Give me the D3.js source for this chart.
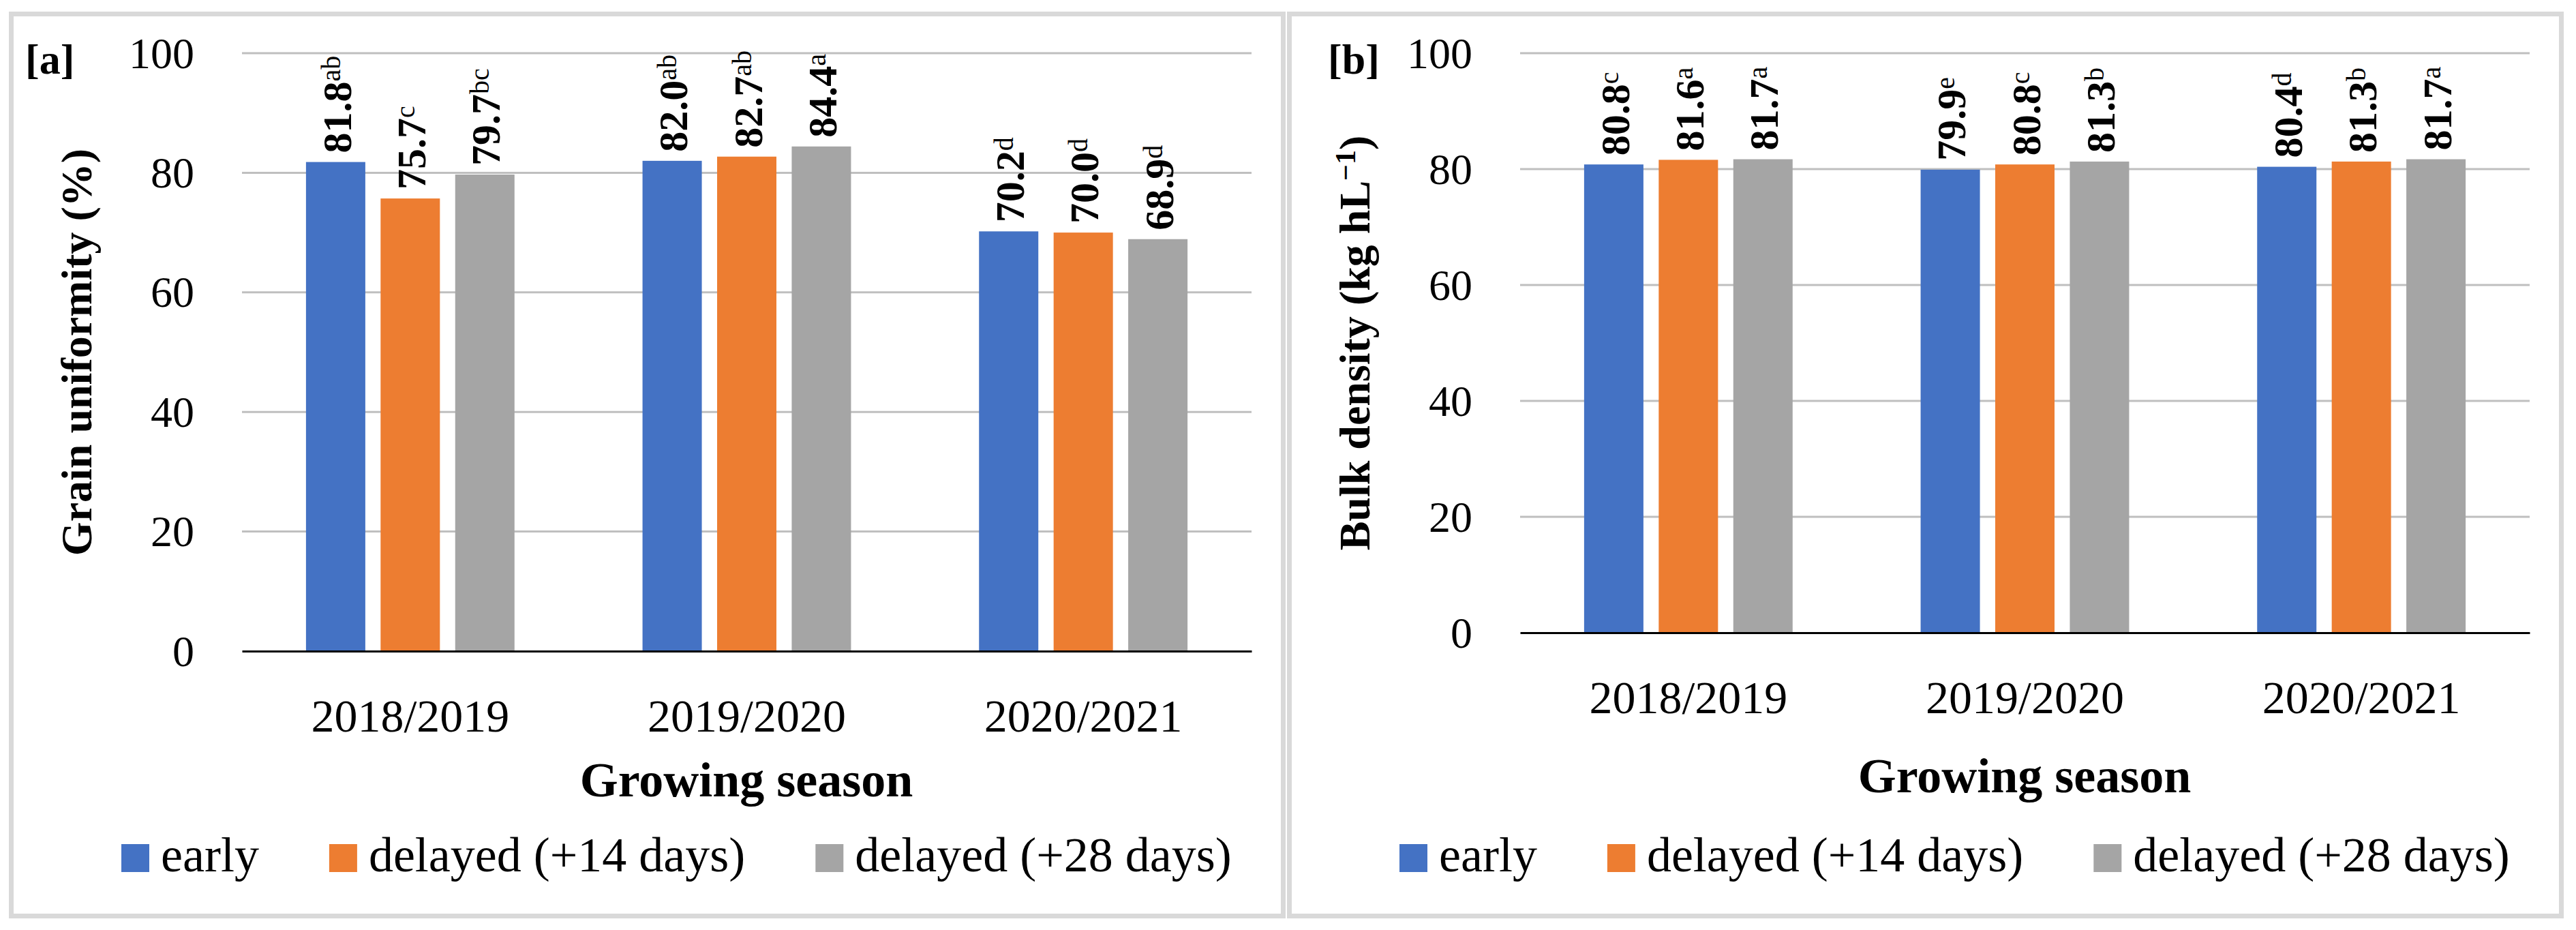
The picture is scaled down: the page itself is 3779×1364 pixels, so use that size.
<!DOCTYPE html>
<html>
<head>
<meta charset="utf-8">
<script src="https://cdn.jsdelivr.net/npm/d3@7"></script>
<style>
  body { margin: 0; background: #fff; }
  svg { display: block; }
</style>
</head>
<body>
<script>
(function() {

    // Grain uniformity and bulk density by growing season and sowing date

    var categories = ["2018/2019", "2019/2020", "2020/2021"];
    var series = ["early", "delayed (+14 days)", "delayed (+28 days)"];
    var colors = ["#4472C4", "#ED7D31", "#A5A5A5"];
    var yTicks = [0, 20, 40, 60, 80, 100];

    // rows = seasons, columns = series
    var uniformity = [[81.8, 75.7, 79.7], [82.0, 82.7, 84.4], [70.2, 70.0, 68.9]];
    var uniformityLetters = [["ab", "c", "bc"], ["ab", "ab", "a"], ["d", "d", "d"]];
    var density = [[80.8, 81.6, 81.7], [79.9, 80.8, 81.3], [80.4, 81.3, 81.7]];
    var densityLetters = [["c", "a", "a"], ["e", "c", "b"], ["d", "b", "a"]];

    var width = 3779,
        height = 1364,
        font = "'Liberation Serif', 'Times New Roman', serif";

    var svg = d3.select("body")
        .append("svg")
        .attr("width", width)
        .attr("height", height)
        .attr("font-family", font);

    var fmt = d3.format(".1f");

    var drawPanel = function(p) {
        var g = svg.append("g").attr("transform", "translate(" + p.left + ",0)");

        // frame
        g.append("rect")
            .attr("x", 3.5).attr("y", 20.5)
            .attr("width", 1866).attr("height", 1323)
            .attr("fill", "#fff")
            .attr("stroke", "#d9d9d9")
            .attr("stroke-width", 7);

        var x0 = d3.scaleBand().domain(categories).range([342, 1823]);
        var x1 = d3.scaleBand().domain(d3.range(series.length))
            .range([0, x0.bandwidth()])
            .paddingInner(0.205)
            .paddingOuter(0.858);
        var y = d3.scaleLinear().domain([0, 100]).range([p.bottom, 78]);

        // gridlines
        g.append("g").selectAll("line")
            .data(yTicks.slice(1))
            .enter().append("line")
            .attr("x1", 342).attr("x2", 1823)
            .attr("y1", function(d) { return y(d); })
            .attr("y2", function(d) { return y(d); })
            .attr("stroke", "#bfbfbf")
            .attr("stroke-width", 3);

        // y axis labels
        var ya = g.append("g")
            .attr("transform", "translate(342,0)")
            .call(d3.axisLeft(y).tickValues(yTicks).tickSize(0).tickPadding(70));
        ya.select(".domain").remove();
        ya.attr("font-family", font).attr("font-size", 64);
        ya.selectAll("text").attr("fill", "#000").attr("dy", "0.33em");

        // bars
        var groups = g.append("g").selectAll("g")
            .data(p.values)
            .enter().append("g")
            .attr("transform", function(d, i) { return "translate(" + x0(categories[i]) + ",0)"; });

        groups.selectAll("rect")
            .data(function(d) { return d; })
            .enter().append("rect")
            .attr("x", function(d, j) { return x1(j); })
            .attr("width", x1.bandwidth())
            .attr("y", function(d) { return y(d); })
            .attr("height", function(d) { return y(0) - y(d); })
            .attr("fill", function(d, j) { return colors[j]; });

        // value labels with letter superscripts
        var labels = groups.selectAll("text")
            .data(function(d, i) {
                return d.map(function(v, j) { return {v: v, s: p.letters[i][j], j: j}; });
            })
            .enter().append("text")
            .attr("transform", function(d) {
                return "translate(" + (x1(d.j) + x1.bandwidth() / 2) + "," + (y(d.v) - 13) + ") rotate(-90)";
            })
            .attr("dy", "0.37em")
            .attr("font-size", 60);
        labels.append("tspan")
            .attr("font-weight", "bold")
            .text(function(d) { return fmt(d.v); });
        labels.append("tspan")
            .attr("font-size", 40)
            .attr("dy", "-0.4em")
            .text(function(d) { return d.s; });

        // x axis (zero line + season labels)
        var xa = g.append("g")
            .attr("transform", "translate(0," + y(0) + ")")
            .call(d3.axisBottom(x0).tickSize(0).tickSizeOuter(0));
        xa.select(".domain").attr("stroke", "#000").attr("stroke-width", 3);
        xa.attr("font-family", font).attr("font-size", 68);
        xa.selectAll("text").attr("fill", "#000").attr("dy", null).attr("y", 118);

        // axis titles
        var yt = g.append("text")
            .attr("transform", "translate(" + p.titleX + "," + ((p.bottom + 78) / 2) + ") rotate(-90)")
            .attr("text-anchor", "middle")
            .attr("font-weight", "bold")
            .attr("font-size", 64);
        p.yTitle.forEach(function(t) {
            var ts = yt.append("tspan").text(t.text);
            if (t.sup) ts.attr("font-size", 42).attr("dy", "-0.5em");
            if (t.after) ts.attr("dy", "0.33em");
        });

        g.append("text")
            .attr("x", 1082).attr("y", p.titleBase)
            .attr("text-anchor", "middle")
            .attr("font-weight", "bold")
            .attr("font-size", 72)
            .text("Growing season");

        g.append("text")
            .attr("x", p.tagX).attr("y", 108)
            .attr("font-weight", "bold")
            .attr("font-size", 62)
            .text(p.tag);

        // legend
        var lx = 165;
        series.forEach(function(s, j) {
            g.append("rect")
                .attr("x", lx).attr("y", 1238)
                .attr("width", 41).attr("height", 41)
                .attr("fill", colors[j]);
            var t = g.append("text")
                .attr("x", lx + 58).attr("y", 1278)
                .attr("font-size", 72)
                .text(s);
            lx += 58 + t.node().getComputedTextLength() + 103;
        });
    };

    drawPanel({
        left: 13, bottom: 955, titleBase: 1168, titleX: 121,
        tag: "[a]", tagX: 24,
        values: uniformity, letters: uniformityLetters,
        yTitle: [{text: "Grain uniformity (%)"}]
    });

    drawPanel({
        left: 1888, bottom: 928, titleBase: 1162, titleX: 121,
        tag: "[b]", tagX: 60,
        values: density, letters: densityLetters,
        yTitle: [{text: "Bulk density (kg hL"}, {text: "\u22121", sup: true}, {text: ")", after: true}]
    });

})();
</script>
</body>
</html>
